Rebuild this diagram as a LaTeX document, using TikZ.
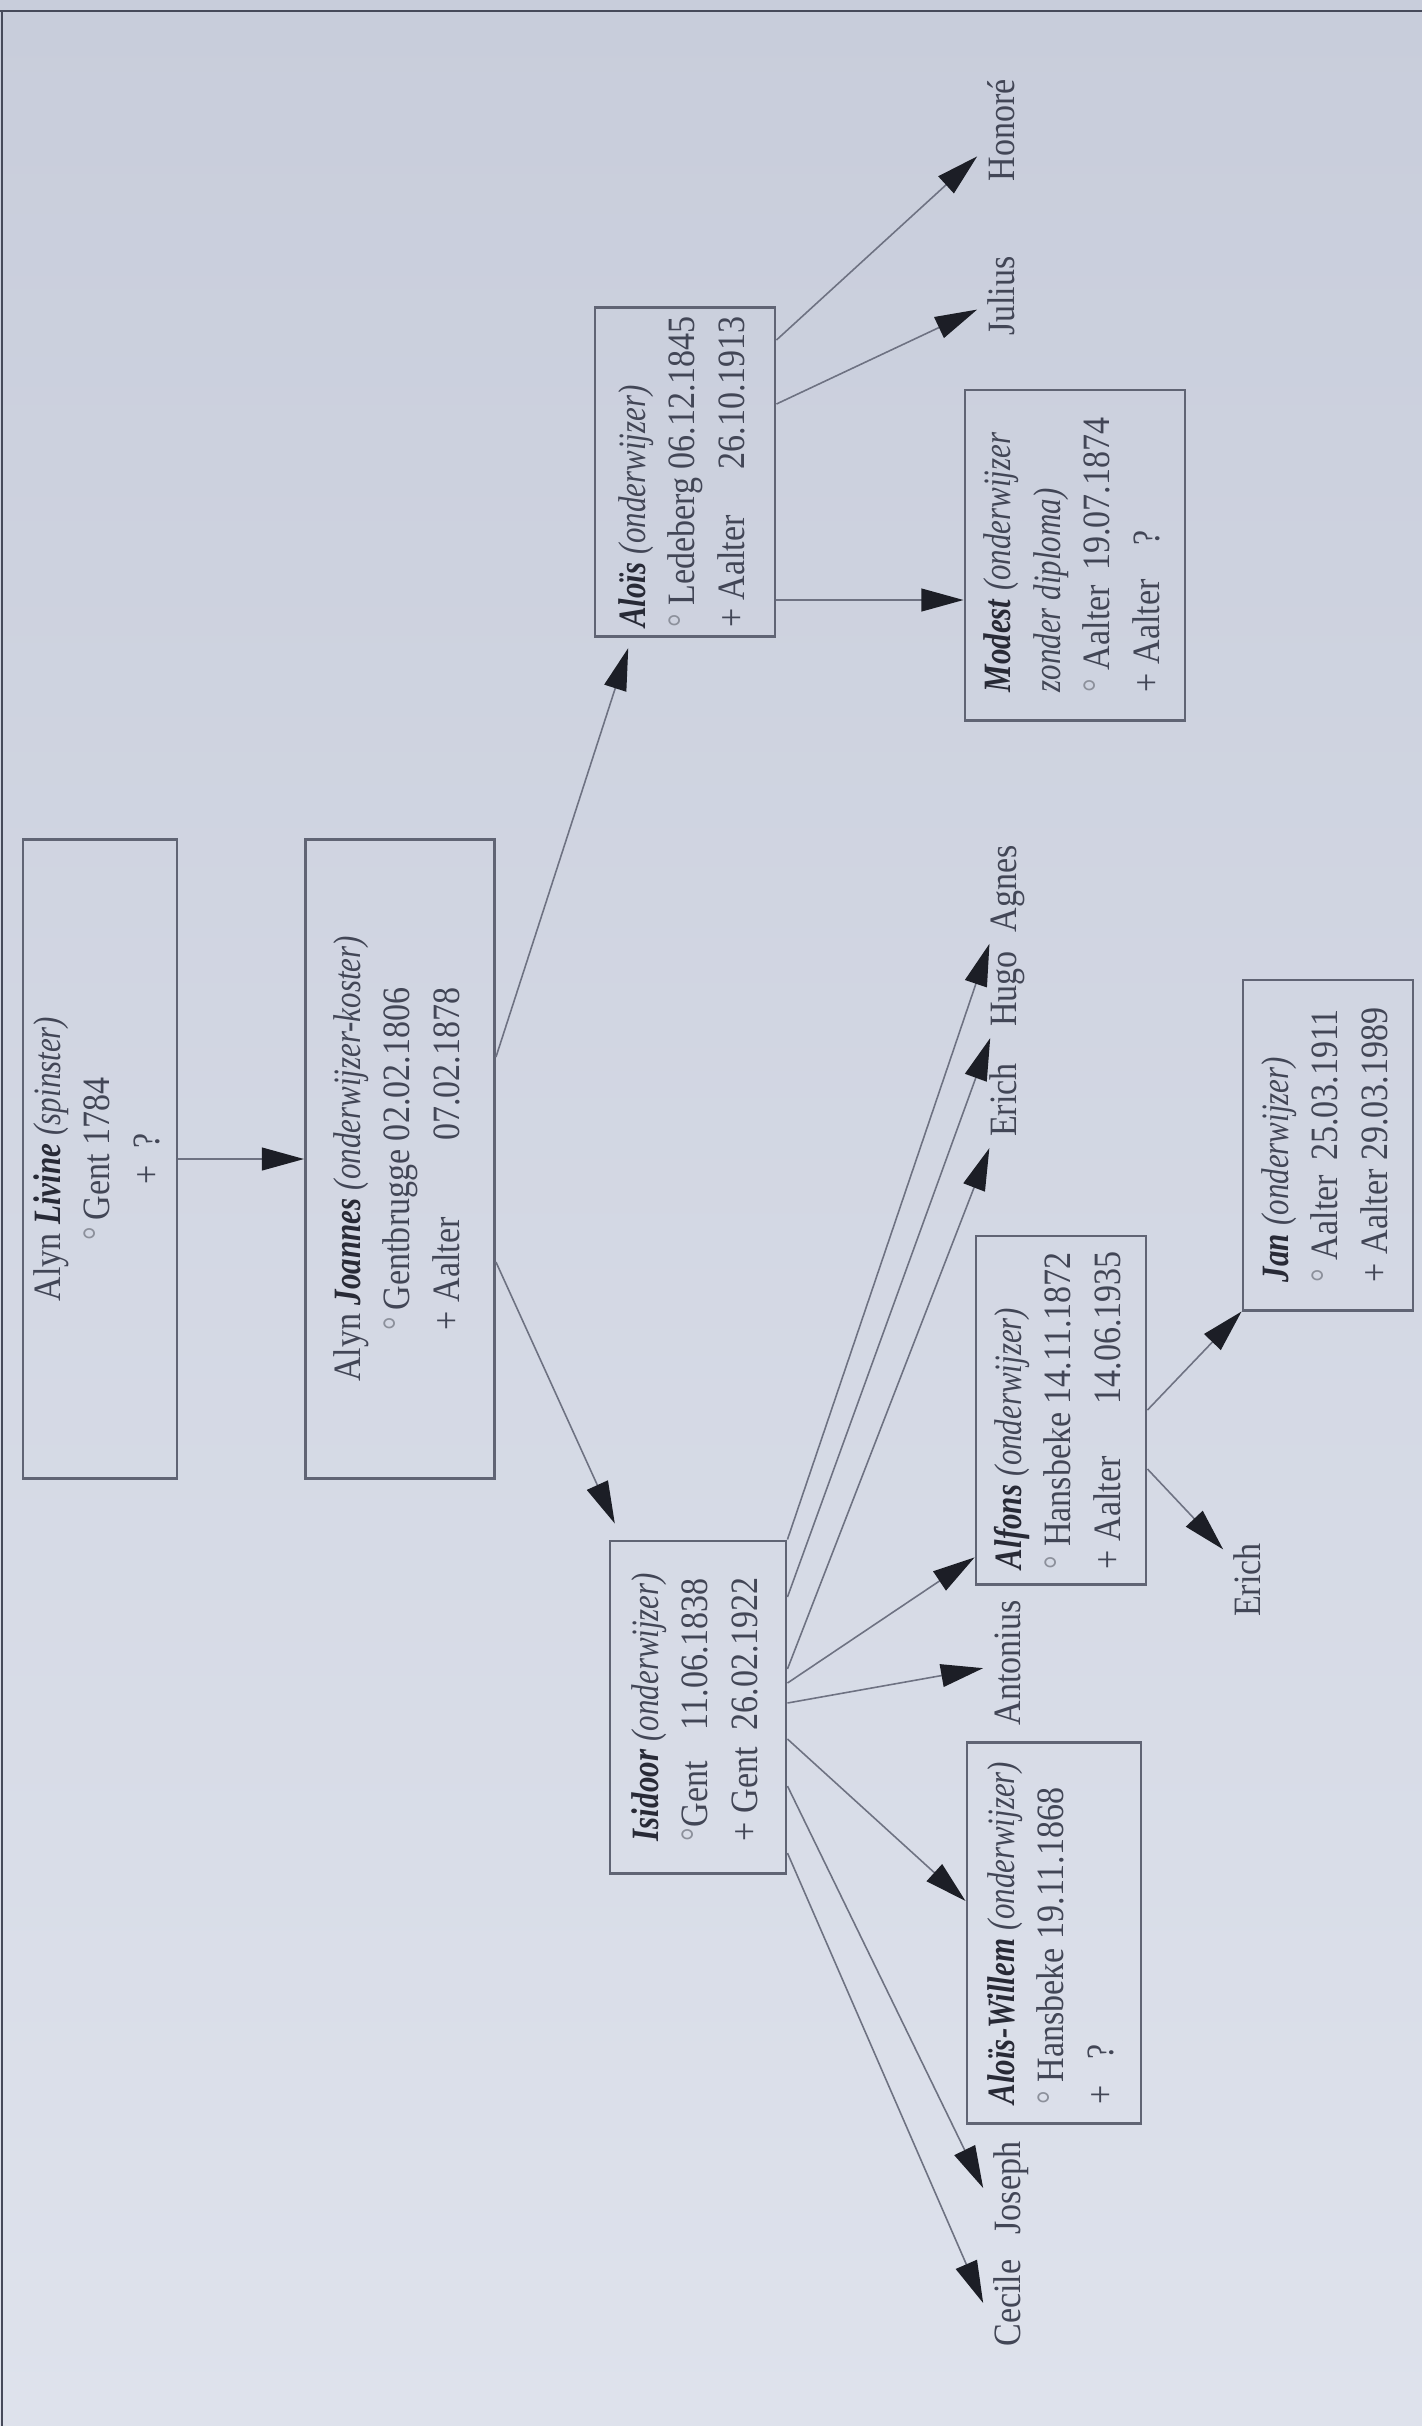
\documentclass[tikz,border=0pt]{standalone}
\usepackage{fontspec}
\setmainfont{Liberation Serif}[UprightFeatures={FakeStretch=0.88},BoldFeatures={FakeStretch=0.88},ItalicFeatures={FakeStretch=0.8},BoldItalicFeatures={FakeStretch=0.8}]
\usetikzlibrary{arrows.meta}
\usetikzlibrary{calc}

\definecolor{papertop}{RGB}{200,205,219}
\definecolor{paperbot}{RGB}{222,226,236}
\definecolor{ink}{RGB}{66,70,86}
\definecolor{nameink}{RGB}{40,42,54}
\definecolor{boxline}{RGB}{96,100,116}
\definecolor{wire}{RGB}{110,114,130}
\definecolor{tipcol}{RGB}{28,30,38}
\definecolor{ringgray}{RGB}{140,144,155}
\definecolor{framecol}{RGB}{70,74,90}

\newcommand{\nm}[1]{{\color{nameink}\bfseries\itshape #1}}
\newcommand{\geb}{{\color{ringgray}°}}

\begin{document}
\begin{tikzpicture}[x=0.01cm,y=-0.01cm]
\tikzstyle{box}=[draw=boxline, line width=0.8pt, rotate=90, inner sep=0pt, text=ink, font=\fontsize{11}{14.2}\selectfont]
\tikzstyle{child}=[rotate=90, inner sep=3pt, text=ink, text height=0.75em, text depth=0.25em, font=\fontsize{11}{14.2}\selectfont]
\tikzstyle{link}=[draw=wire, line width=0.45pt, -{Triangle[length=12pt,width=6.5pt,color=tipcol]}]

	%paper
	\useasboundingbox (0,0) rectangle (1422,2426);
	\shade[top color=papertop, bottom color=paperbot] (0,0) rectangle (1422,2426);
	\draw[framecol, line width=0.8pt] (0,11) -- (1422,11);
	\draw[framecol, line width=0.8pt] (2,11) -- (2,2426);

	%boxes
	\node[box, minimum width=6.38cm, minimum height=1.54cm] (livine) at (100,1159)
		{\begin{tabular}{@{}c@{}} Alyn \nm{Livine} \textit{(spinster)}\\ \geb\,Gent 1784\\ +\ \ ? \end{tabular}};
	\node[box, minimum width=6.38cm, minimum height=1.89cm] (joannes) at (400,1159)
		{\begin{tabular}{@{}c@{}} Alyn \nm{Joannes} \textit{(onderwijzer-koster)}\\
		\begin{tabular}[t]{@{}l@{\ }l@{}} \geb\,Gentbrugge & 02.02.1806\\ + Aalter & 07.02.1878 \end{tabular} \end{tabular}};
	\node[box, minimum width=3.32cm, minimum height=1.76cm] (isidoor) at (698,1707)
		{\begin{tabular}{@{}l@{\ \ }l@{}} \multicolumn{2}{@{}l@{}}{\nm{Isidoor} \textit{(onderwijzer)}}\\ \geb Gent & 11.06.1838\\ + Gent & 26.02.1922 \end{tabular}};
	\node[box, minimum width=3.29cm, minimum height=1.80cm] (alois) at (685,472)
		{\begin{tabular}{@{}l@{\ }l@{}} \multicolumn{2}{@{}l@{}}{\nm{Aloïs} \textit{(onderwijzer)}}\\ \geb\ Ledeberg & 06.12.1845\\ + Aalter & 26.10.1913 \end{tabular}};
	\node[box, minimum width=3.30cm, minimum height=2.20cm] (modest) at (1075,555)
		{\begin{tabular}{@{}l@{\ }l@{}} \multicolumn{2}{@{}l@{}}{\nm{Modest} \textit{(onderwijzer}}\\ \multicolumn{2}{@{}l@{}}{\textit{zonder diploma)}}\\ \geb\ Aalter & 19.07.1874\\ + Aalter & \ \ \ ? \end{tabular}};
	\node[box, minimum width=3.48cm, minimum height=1.70cm] (alfons) at (1061,1410)
		{\begin{tabular}{@{}l@{\ }l@{}} \multicolumn{2}{@{}l@{}}{\nm{Alfons} \textit{(onderwijzer)}}\\ \geb\ Hansbeke & 14.11.1872\\ + Aalter & 14.06.1935 \end{tabular}};
	\node[box, minimum width=3.30cm, minimum height=1.70cm] (jan) at (1328,1145)
		{\begin{tabular}{@{}l@{\ }l@{}} \multicolumn{2}{@{}l@{}}{\nm{Jan} \textit{(onderwijzer)}}\\ \geb\ Aalter & 25.03.1911\\ + Aalter & 29.03.1989 \end{tabular}};
	\node[box, minimum width=3.81cm, minimum height=1.74cm] (aloiswillem) at (1054,1933)
		{\begin{tabular}{@{}l@{}} \nm{Aloïs-Willem} \textit{(onderwijzer)}\\ \geb\ Hansbeke 19.11.1868\\ +\ \ \ ? \end{tabular}};

	%names
	\node[child] (honore) at (1006,130) {Honoré};
	\node[child] (julius) at (1006,296) {Julius};
	\node[child] (agnes) at (1008,889) {Agnes};
	\node[child] (hugo) at (1008,989) {Hugo};
	\node[child] (erich) at (1008,1100) {Erich};
	\node[child] (antonius) at (1012,1663) {Antonius};
	\node[child] (joseph) at (1012,2188) {Joseph};
	\node[child] (cecile) at (1012,2303) {Cecile};
	\node[child] (erichb) at (1252,1580) {Erich};

	%paths
	\draw[link] (livine) -- (joannes);
	\draw[link, shorten >=3pt] ($(joannes.south)+(0,-102)$) -- (alois);
	\draw[link, shorten >=5pt] ($(joannes.south)+(0,103)$) -- (isidoor);
	\draw[link] ($(alois.south)+(0,-132)$) -- (honore);
	\draw[link] ($(alois.south)+(0,-68)$) -- (julius);
	\coordinate (almo) at ($(alois.south)+(0,128)$);
	\draw[link] (almo) -- (almo -| modest.north);
	\draw[link] (isidoor.south east) -- (agnes);
	\draw[link] ($(isidoor.south)+(0,-110)$) -- (hugo);
	\draw[link] ($(isidoor.south)+(0,-38)$) -- (erich);
	\draw[link] ($(isidoor.south)+(0,-24)$) -- ($(alfons.north west)!0.08!(alfons.north east)$);
	\draw[link] ($(isidoor.south)+(0,-4)$) -- (antonius);
	\draw[link] ($(isidoor.south)+(0,32)$) -- ($(aloiswillem.north)+(0,-32)$);
	\draw[link] ($(isidoor.south)+(0,79)$) -- (joseph.north);
	\draw[link] ($(isidoor.south)+(0,146)$) -- (cecile.north);
	\draw[link] (alfons.south) -- (jan.north west);
	\draw[link] ($(alfons.south)+(0,59)$) -- (erichb);

\end{tikzpicture}
\end{document}
